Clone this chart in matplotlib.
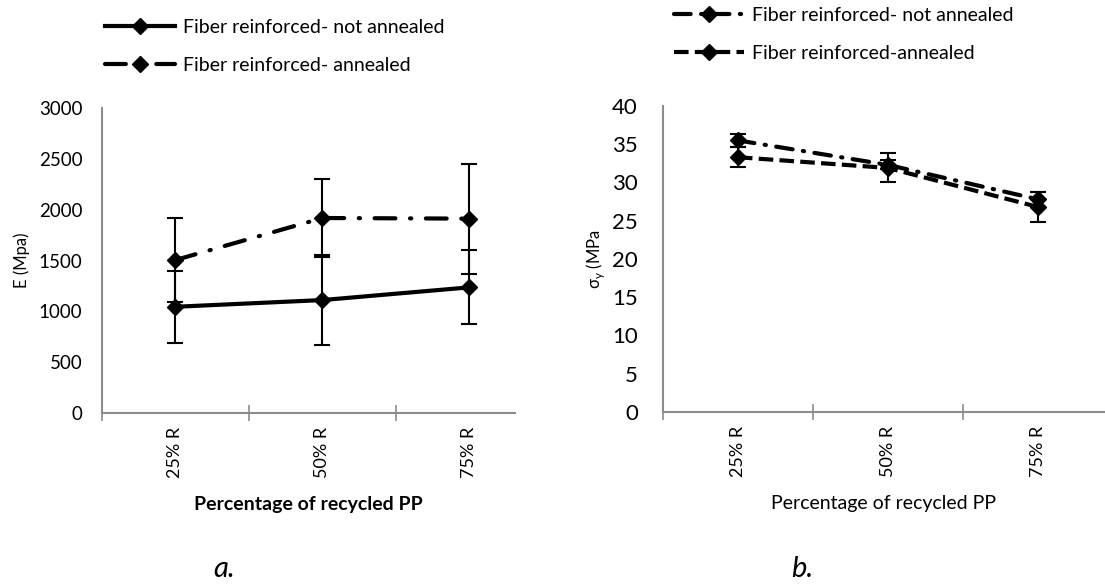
import matplotlib.pyplot as plt

plt.rcParams['font.family'] = ['Lato', 'DejaVu Sans']

# recycled content categories
categories = ["25% R", "50% R", "75% R"]

# elastic modulus, MPa
E_not_annealed = [1045, 1111, 1236]
E_not_annealed_err = [355, 442, 364]
E_annealed = [1505, 1918, 1912]
E_annealed_err = [415, 380, 542]

# yield stress, MPa
sy_not_annealed = [35.5, 32.3, 27.8]
sy_not_annealed_err = [0.9, 0.6, 1.0]
sy_annealed = [33.3, 31.9, 26.8]
sy_annealed_err = [1.3, 1.9, 2.0]

fig = plt.figure(figsize=(11.05, 5.88), dpi=100)
ax1 = fig.add_axes([0.0923, 0.2976, 0.3737, 0.5187])
ax2 = fig.add_axes([0.600, 0.2998, 0.400, 0.5199])

grey = "#8c8c8c"
x = list(range(len(categories)))
marker_kw = dict(color="black", lw=3, marker="D", ms=8.5, capsize=5.5,
                 elinewidth=1.5, capthick=1.5)


def style_axis(ax, xmax, ypad):
    for s in ["top", "right"]:
        ax.spines[s].set_visible(False)
    for s in ["left", "bottom"]:
        ax.spines[s].set_color(grey)
        ax.spines[s].set_linewidth(1.5)
    ax.set_xlim(-0.5, xmax)
    ax.set_xticks([-0.5, 0.5, 1.5])
    ax.set_xticks(x, minor=True)
    ax.set_xticklabels([])
    ax.set_xticklabels(categories, minor=True, rotation=90, fontsize=13)
    ax.tick_params(axis="x", which="major", direction="inout", length=12,
                   color=grey, width=1.2)
    ax.tick_params(axis="x", which="minor", length=0, pad=10)
    ax.tick_params(axis="y", length=0, pad=ypad)


# ---- panel a: modulus
l1 = ax1.errorbar(x, E_not_annealed, yerr=E_not_annealed_err,
                  label="Fiber reinforced- not annealed", **marker_kw)
l2 = ax1.errorbar(x, E_annealed, yerr=E_annealed_err,
                  label="Fiber reinforced- annealed", **marker_kw)
l2[0].set_dashes([5, 3.5, 0.3, 3.5])
l2[0].set_dash_capstyle("round")
style_axis(ax1, 2.31, 14)
ax1.set_ylim(0, 3000)
ax1.set_yticks(range(0, 3001, 500))
ax1.tick_params(axis="y", labelsize=13.5)
ax1.set_ylabel("E (Mpa)", fontsize=12, labelpad=6)
ax1.set_xlabel("Percentage of recycled PP", fontsize=14, fontweight="bold",
               labelpad=13)
fig.legend(handles=[l1[0], l2[0]], labels=[l1.get_label(), l2.get_label()],
           loc="upper left", bbox_to_anchor=(0.079, 0.998),
           frameon=False, fontsize=14, handlelength=3.6, labelspacing=1.1,
           handletextpad=0.4)

# ---- panel b: yield stress
r1 = ax2.errorbar(x, sy_not_annealed, yerr=sy_not_annealed_err,
                  label="Fiber reinforced- not annealed", **marker_kw)
r2 = ax2.errorbar(x, sy_annealed, yerr=sy_annealed_err,
                  label="Fiber reinforced-annealed", **marker_kw)
r1[0].set_dashes([4, 2.5, 0.3, 2.5])
r1[0].set_dash_capstyle("round")
r2[0].set_dashes([3.5, 1.5])
style_axis(ax2, 2.45, 18)
ax2.set_ylim(0, 40)
ax2.set_yticks(range(0, 41, 5))
ax2.tick_params(axis="y", labelsize=16)
ax2.set_ylabel(r"σ$_\mathregular{y}$ (MPa", fontsize=12, labelpad=4)
ax2.set_xlabel("Percentage of recycled PP", fontsize=14, labelpad=13)
fig.legend(handles=[r1[0], r2[0]], labels=[r1.get_label(), r2.get_label()],
           loc="upper left", bbox_to_anchor=(0.594, 1.018),
           frameon=False, fontsize=14, handlelength=3.6, labelspacing=1.1,
           handletextpad=0.4)

fig.text(0.203, 0.018, "a.", fontsize=21, style="italic", ha="center")
fig.text(0.726, 0.018, "b.", fontsize=21, style="italic", ha="center")

fig.savefig("out.png", dpi=100)
